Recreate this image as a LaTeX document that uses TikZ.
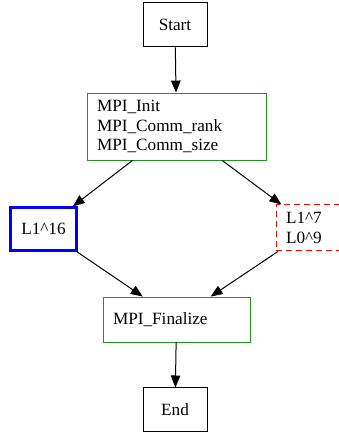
\documentclass[tikz,border=0pt]{standalone}
\usepackage{fontspec}
\setmainfont{Liberation Serif}
\usetikzlibrary{arrows.meta}
\definecolor{boxgreen}{RGB}{30,150,30}
\definecolor{boxblue}{RGB}{0,0,255}
\definecolor{boxred}{RGB}{255,0,0}
\begin{document}
\begin{tikzpicture}[x=1pt,y=1pt,
  every node/.style={font=\fontsize{17.2}{19.5}\selectfont, inner sep=0pt},
  plainbox/.style={draw=black, line width=1pt, minimum width=64, minimum height=44},
  greenbox/.style={draw=boxgreen, line width=0.9pt, align=left, inner xsep=10, inner ysep=0},
  bluebox/.style={draw=boxblue, line width=2.2pt, minimum width=66, minimum height=43},
  redbox/.style={draw=boxred, line width=1pt, dash pattern=on 6pt off 4pt, align=left, inner xsep=10},
  flow/.style={draw=black, line width=1pt, -{Triangle[length=12pt,width=9.5pt]}}]
  \useasboundingbox (0,0) rectangle (339,437);
  \clip (0,0) rectangle (339,437);

  % nodes
  \node[plainbox] (start) at (175,412) {Start};
  \node[greenbox, text width=159, minimum height=67] (init) at (176.5,310.5)
    {MPI\_Init\\MPI\_Comm\_rank\\MPI\_Comm\_size};
  \node[bluebox] (left) at (43.5,208) {L1\textasciicircum16};
  \node[redbox, text width=54, minimum height=46] (right) at (313,209)
    {L1\textasciicircum7\\L0\textasciicircum9};
  \node[greenbox, text width=127, minimum height=45] (fin) at (176.5,117.5) {MPI\_Finalize};
  \node[plainbox] (end) at (175,27) {End};

  % connectors
  \draw[flow] (start) -- (init);
  \draw[flow] (init) -- (left);
  \draw[flow] (init) -- (right);
  \draw[flow] (left) -- (fin);
  \draw[flow] (right) -- (fin);
  \draw[flow] (fin) -- (end);
\end{tikzpicture}
\end{document}
